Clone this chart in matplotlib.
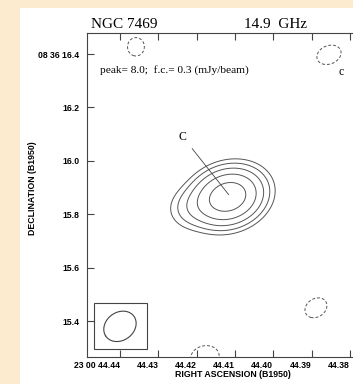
import numpy as np
import matplotlib
matplotlib.use("Agg")
import matplotlib.pyplot as plt
from matplotlib.patches import Rectangle

# source components: RA (s past 23h00m), Dec (arcsec past 08d36m), peak (mJy/beam),
# FWHM major/minor (arcsec), position angle (deg, east of north)
comp_ra = [44.41182, 44.42174, 44.43583, 44.38547, 44.38887, 44.41782]
comp_dec = [15.865, 15.822, 16.427, 16.397, 15.4494, 15.266]
comp_peak = [7.6, 0.6, -0.45, -0.45, -0.45, -0.45]
comp_maj = [0.172, 0.130, 0.090, 0.126, 0.117, 0.144]
comp_min = [0.128, 0.110, 0.085, 0.090, 0.090, 0.108]
comp_pa = [106, 100, 0, 110, 120, 100]

first_contour = 0.3
levels_pos = [1, 2, 4, 8, 16]
levels_neg = [-1]

# restoring beam
beam_ra, beam_dec = 44.44, 15.380
beam_maj, beam_min, beam_pa = 0.132, 0.106, 122

xticks = [44.44, 44.43, 44.42, 44.41, 44.40, 44.39, 44.38]
xticklabels = ["23 00 44.44", "44.43", "44.42", "44.41", "44.40", "44.39", "44.38"]
yticks = [16.4, 16.2, 16.0, 15.8, 15.6, 15.4]
yticklabels = ["08 36 16.4", "16.2", "16.0", "15.8", "15.6", "15.4"]

cosd = np.cos(np.radians(8.6))
sig = 1 / (2 * np.sqrt(2 * np.log(2)))

ra = np.linspace(44.4495, 44.3770, 500)
dec = np.linspace(15.255, 16.49, 500)
RA, DEC = np.meshgrid(ra, dec)
field = np.zeros_like(RA)
for r0, d0, pk, bmaj, bmin, pa in zip(comp_ra, comp_dec, comp_peak, comp_maj, comp_min, comp_pa):
    dx = (RA - r0) * 15 * cosd
    dy = DEC - d0
    t = np.radians(pa)
    u = dx * np.sin(t) + dy * np.cos(t)
    v = dx * np.cos(t) - dy * np.sin(t)
    field += pk * np.exp(-0.5 * ((u / (bmaj * sig)) ** 2 + (v / (bmin * sig)) ** 2))

fig = plt.figure(figsize=(3.53, 3.84), dpi=100, facecolor="#fdebd0")
fig.patches.append(Rectangle((20 / 353, 0), 1, 1 - 8 / 384, transform=fig.transFigure,
                             facecolor="white", edgecolor="none", zorder=-10))
ax = fig.add_axes([87 / 353, 27 / 384, 271 / 353, 324 / 384])
ax.set_facecolor("white")

ax.contour(RA, DEC, field, levels=[first_contour * l for l in levels_pos],
           colors="#555555", linewidths=0.7, linestyles="solid")
ax.contour(RA, DEC, field, levels=[first_contour * l for l in levels_neg],
           colors="#555555", linewidths=0.7, linestyles=[(0, (3, 2))])

ax.set_xlim(44.4486, 44.3779)
ax.set_ylim(15.2652, 16.4787)

# beam in the corner box
ax.add_patch(Rectangle((44.44678, 15.2959), 44.43296 - 44.44678, 15.4682 - 15.2959,
                       fill=False, edgecolor="#444444", linewidth=0.8))
tt = np.linspace(0, 2 * np.pi, 200)
bt = np.radians(beam_pa)
a, b = beam_maj / 2, beam_min / 2
e_off = a * np.cos(tt) * np.sin(bt) + b * np.sin(tt) * np.cos(bt)
n_off = a * np.cos(tt) * np.cos(bt) - b * np.sin(tt) * np.sin(bt)
ax.plot(beam_ra + e_off / (15 * cosd), beam_dec + n_off, color="#444444", linewidth=0.8)

ax.annotate("C", xy=(comp_ra[0] - 0.0002, comp_dec[0] + 0.008), xytext=(44.4236, 16.09),
            fontsize=8.5, family="Liberation Serif", ha="center", va="center",
            arrowprops=dict(arrowstyle="-", color="#444444", linewidth=0.6, shrinkA=3, shrinkB=0))

ax.text(0.048, 0.886, "peak= 8.0;  f.c.= 0.3 (mJy/beam)", transform=ax.transAxes,
        fontsize=8.2, family="Liberation Serif", va="center")
ax.text(0.937, 0.88, "c", transform=ax.transAxes, fontsize=8.5,
        family="Liberation Serif", va="center", ha="center")

fig.text(124 / 353, 1 - 25 / 384, "NGC 7469", fontsize=11, family="Liberation Serif",
         ha="center", va="center")
fig.text(275 / 353, 1 - 25 / 384, "14.9  GHz", fontsize=11, family="Liberation Serif",
         ha="center", va="center")

ax.set_xticks(xticks)
ax.set_xticklabels(xticklabels, ha="right")
ax.set_yticks(yticks)
ax.set_yticklabels(yticklabels)
ax.tick_params(direction="in", length=5, width=0.8, color="#444444", top=True, right=False,
               labelsize=6.2, pad=5.5)
ax.tick_params(axis="x", pad=3)
for lab in ax.get_xticklabels() + ax.get_yticklabels():
    lab.set_family("Liberation Sans")
    lab.set_fontweight("bold")
for s in ax.spines.values():
    s.set_color("#444444")
    s.set_linewidth(0.8)

ax.set_xlabel("RIGHT ASCENSION (B1950)", fontsize=6.3, family="Liberation Sans",
              fontweight="bold", labelpad=0, x=0.54)
ax.set_ylabel("DECLINATION (B1950)", fontsize=6.3, family="Liberation Sans",
              fontweight="bold", labelpad=1, y=0.52)

fig.savefig("out.png", dpi=100, facecolor=fig.get_facecolor())
